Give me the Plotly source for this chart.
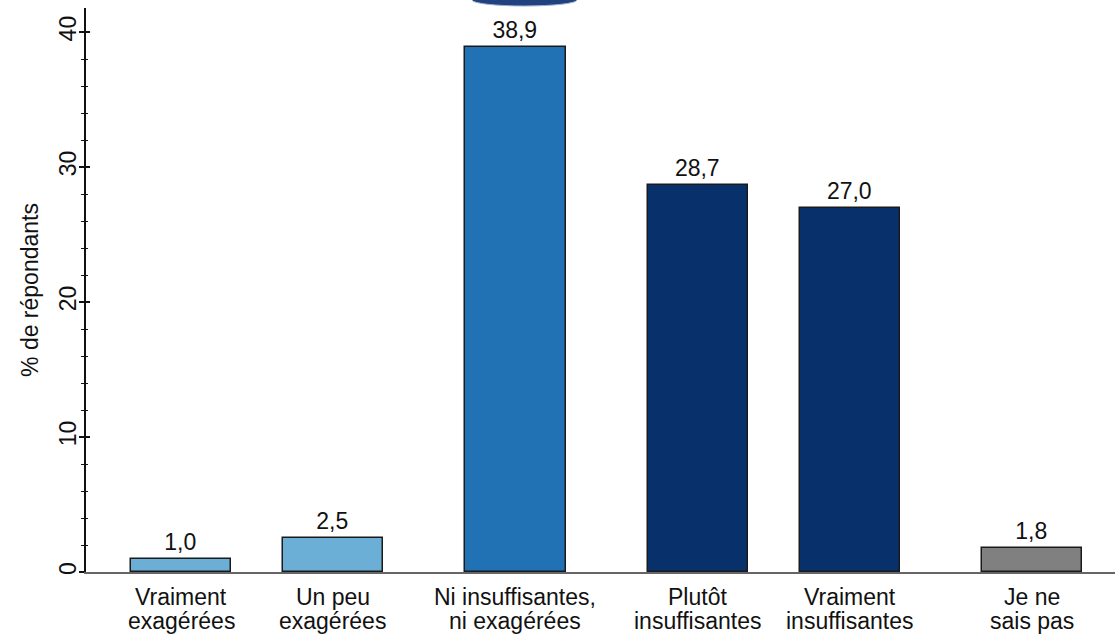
import plotly.graph_objects as go

# data
labels = ["Vraiment\nexagérées", "Un peu\nexagérées", "Ni insuffisantes,\nni exagérées",
          "Plutôt\ninsuffisantes", "Vraiment\ninsuffisantes", "Je ne\nsais pas"]
values = [1.0, 2.5, 38.9, 28.7, 27.0, 1.8]
groups = [0, 0, 1, 2, 2, 3]
group_colors = ["#6baed6", "#2171b5", "#08306b", "#808080"]

FONT = "Liberation Sans, Arial, sans-serif"
TXT = "#111111"
FS = 23

# bars placed by index, with a small gap between answer groups
xpos = [i + 0.2 * g for i, g in enumerate(groups)]
colors = [group_colors[g] for g in groups]

fig = go.Figure()
fig.add_trace(go.Bar(
    x=xpos, y=values, width=0.66,
    marker=dict(color=colors, line=dict(color="#1a1a1a", width=1.5)),
    texttemplate="%{y:.1f}", textposition="outside", cliponaxis=False,
    textfont=dict(family=FONT, size=FS, color=TXT),
    showlegend=False, hoverinfo="skip",
))

# second y axis on top of the first, only to get ticks that cross the line
fig.add_trace(go.Scatter(x=[xpos[0]], y=[0], yaxis="y2", mode="markers",
                         marker=dict(opacity=0), showlegend=False, hoverinfo="skip"))

# two-line category labels, with the tighter line spacing of the reference
annotations = []
for x, lab in zip(xpos, labels):
    for k, line in enumerate(lab.split("\n")):
        annotations.append(dict(
            x=x, xref="x", y=0, yref="paper", yanchor="top", xanchor="center",
            yshift=-10 - 23.5 * k, text=line, showarrow=False,
            font=dict(family=FONT, size=FS, color=TXT),
        ))

yrange = [0, 41.78]
fig.update_layout(
    width=1115, height=634,
    margin=dict(l=86, r=0, t=8, b=62),
    paper_bgcolor="white", plot_bgcolor="white",
    separators=",.",
    font=dict(family=FONT, size=FS, color=TXT),
    bargap=0,
    xaxis=dict(range=[-0.625, 6.145], showgrid=False, zeroline=False,
               showline=True, linecolor="#666666", linewidth=1.5,
               showticklabels=False, ticks=""),
    yaxis=dict(range=yrange, showgrid=False, zeroline=False,
               showline=True, linecolor="#111111", linewidth=2,
               tickvals=[0, 10, 20, 30, 40], ticks="outside", ticklen=5,
               tickcolor="#111111", tickwidth=1.5, tickangle=-90,
               ticklabelstandoff=-6,
               tickfont=dict(family=FONT, size=FS, color=TXT),
               minor=dict(dtick=2, ticks="outside", ticklen=3,
                          tickcolor="#111111", tickwidth=1.2),
               title=dict(text="% de répondants", standoff=10,
                          font=dict(family=FONT, size=FS, color=TXT))),
    yaxis2=dict(range=yrange, overlaying="y", side="left", showgrid=False,
                zeroline=False, showline=False, showticklabels=False,
                tickvals=[0, 10, 20, 30, 40], ticks="inside", ticklen=4,
                tickcolor="#111111", tickwidth=1.5,
                minor=dict(dtick=2, ticks="inside", ticklen=2,
                           tickcolor="#111111", tickwidth=1.2)),
    annotations=annotations,
    shapes=[dict(type="circle", xref="paper", yref="paper",
                 x0=(472 - 86) / 1029, x1=(577 - 86) / 1029,
                 y0=(572 - 6) / 564, y1=(572 + 6) / 564,
                 fillcolor="#22427f", line=dict(color="#9fb2cf", width=1),
                 layer="above")],
)

# the page has a default 8px body margin; remove it so the figure fills the window
fig.write_html("out.html", config={"displayModeBar": False},
               post_script="document.body.style.margin='0';")
